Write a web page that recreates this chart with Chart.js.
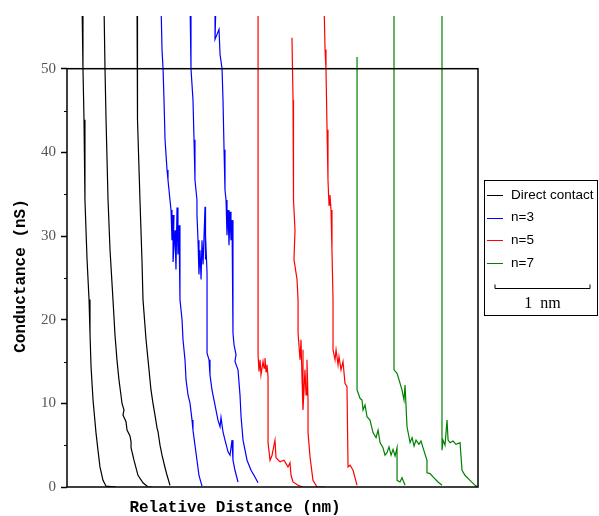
<!DOCTYPE html>
<html>
<head>
<meta charset="utf-8">
<script src="https://cdn.jsdelivr.net/npm/chart.js@4"></script>
<style>
  body { margin: 0; background: #fff; }
  #wrap { width: 599px; height: 516px; }
</style>
</head>
<body>
<div id="wrap"><canvas id="plot" width="599" height="516"></canvas></div>
<script>
// 數據 (x: nm, y: nS)，null 分隔每一條曲線
const seriesLabels = ['Direct contact', 'n=3', 'n=5', 'n=7'];
const seriesColors = ['#000000', '#0000ff', '#ff0000', '#008000'];
const yTickValues = [0, 10, 20, 30, 40, 50];

const contactX = [0.158, 0.168, 0.179, 0.189, 0.211, 0.232, 0.242, 0.253, 0.274, 0.305, 0.326, 0.347, 0.379, 0.411, 0.516, null,
  0.389, 0.400, 0.411, 0.432, 0.453, 0.484, 0.505, 0.526, 0.547, 0.568, 0.579, 0.600, 0.589, 0.621, 0.632, 0.663, 0.674, 0.674, 0.705, 0.747, 0.800, 0.853, 0.895, null,
  0.737, 0.737, 0.747, 0.768, 0.789, 0.800, 0.832, 0.853, 0.884, 0.905, 0.926, 0.947, 0.958, 0.979, 1.000, 1.032, 1.053, 1.084];
const contactY = [58, 50, 43.9, 34.3, 27.2, 22.4, 18.4, 14.4, 10.4, 6.5, 4.4, 2.4, 0.8, 0.1, 0, null,
  58, 50, 43.9, 34.3, 28.3, 22.4, 18.2, 15.2, 12.8, 11.0, 10.0, 9.2, 8.6, 7.8, 6.8, 6.1, 5.4, 4.7, 3.2, 1.4, 0.5, 0, 0, null,
  58, 50, 43.9, 34.3, 27.2, 22.4, 17.6, 15.2, 11.6, 10.0, 8.6, 7.1, 6.6, 5.0, 3.8, 2.3, 1.4, 0.2];

const n3X = [0.989, 1.000, 1.011, 1.021, 1.032, 1.053, 1.063, 1.084, 1.095, 1.105, 1.126, 1.116, 1.137, 1.147, 1.158, 1.168, 1.179, 1.189, 1.189, 1.211, 1.221, 1.242, 1.253, 1.274, 1.295, 1.316, 1.326, 1.347, 1.368, 1.389, 1.421, null,
  1.295, 1.305, 1.326, 1.337, 1.347, 1.368, 1.368, 1.379, 1.389, 1.400, 1.411, 1.421, 1.432, 1.453, 1.453, 1.463, 1.474, 1.474, 1.474, 1.474, 1.495, 1.505, 1.526, 1.558, 1.589, 1.611, 1.621, 1.642, 1.663, 1.695, 1.716, 1.737, 1.747, 1.768, 1.800, null,
  1.568, 1.558, 1.600, 1.611, 1.632, 1.642, 1.653, 1.663, 1.674, 1.684, 1.695, 1.705, 1.716, 1.726, 1.737, 1.747, 1.747, 1.747, 1.758, 1.779, 1.768, 1.800, 1.821, 1.832, 1.853, 1.895, 1.937, 1.968, 2.011];
const n3Y = [58, 52.3, 50, 46.3, 41.5, 37.9, 36.7, 34.3, 33.1, 29.5, 32.5, 26.9, 30.7, 26.0, 33.4, 27.8, 31.3, 25.6, 22.4, 20.0, 17.6, 15.2, 12.8, 11.0, 10.0, 8.0, 6.8, 5.0, 3.2, 1.4, 0.1, null,
  58, 50, 46.3, 41.5, 36.7, 34.3, 32.5, 29.5, 25.4, 28.3, 24.8, 29.5, 26.6, 33.5, 27.2, 30.1, 25.6, 22.4, 18.8, 16.0, 15.2, 13.4, 11.6, 9.8, 8.0, 7.2, 8.3, 6.6, 5.6, 4.2, 3.8, 5.6, 3.2, 2.0, 0.6, null,
  58, 53.5, 54.7, 51.7, 50, 46.3, 40.3, 35.5, 34.3, 30.1, 33.1, 28.9, 32.9, 29.5, 31.9, 26.9, 22.4, 18.4, 17.0, 15.8, 15.0, 14.0, 11.0, 8.4, 5.6, 3.2, 2.0, 1.4, 0.5];

const n5X = [2.011, 2.011, 2.021, 2.032, 2.042, 2.063, 2.074, 2.084, 2.095, 2.105, 2.116, 2.116, 2.137, 2.158, 2.189, 2.200, 2.242, 2.284, 2.326, 2.347, 2.358, 2.379, 2.432, 2.484, null,
  2.368, 2.379, 2.389, 2.379, 2.400, 2.389, 2.421, 2.432, 2.432, 2.453, 2.463, 2.474, 2.484, 2.484, 2.505, 2.516, 2.526, 2.537, 2.537, 2.558, 2.589, 2.632, 2.716, null,
  2.705, 2.716, 2.726, 2.737, 2.747, 2.758, 2.768, 2.779, 2.789, 2.800, 2.800, 2.821, 2.832, 2.853, 2.863, 2.884, 2.905, 2.926, 2.947, 2.958, 2.979, 3.011, 3.053];
const n5Y = [58, 15.8, 13.8, 15.2, 13.4, 15.0, 14.2, 15.4, 13.8, 14.6, 13.2, 5.3, 3.2, 3.8, 5.6, 3.5, 3.0, 3.2, 2.4, 2.9, 1.4, 0.6, 0.2, 0, null,
  53.7, 46.3, 40.3, 34.3, 30.7, 27.2, 24.8, 22.4, 18.4, 15.2, 17.6, 12.8, 16.4, 9.2, 14.0, 11.0, 15.2, 10.4, 6.5, 3.6, 0.8, 0, 0, null,
  58, 52.3, 50, 42.7, 36.7, 33.7, 34.9, 33.1, 28.3, 22.4, 16.4, 15.2, 16.4, 14.6, 15.6, 14.0, 15.0, 12.4, 12.0, 2.4, 2.6, 2.0, 0.2];

const n7X = [3.053, 3.053, 3.084, 3.105, 3.116, 3.137, 3.158, 3.189, 3.221, 3.253, 3.274, 3.295, 3.326, 3.347, 3.368, 3.389, 3.411, 3.432, 3.453, 3.474, 3.474, 3.505, 3.526, 3.558, null,
  3.442, 3.442, 3.474, 3.495, 3.526, 3.547, 3.558, 3.579, 3.611, 3.632, 3.653, 3.674, 3.705, 3.726, 3.747, 3.789, 3.789, 3.821, 3.853, 3.905, 3.947, null,
  3.947, 3.947, 3.958, 3.979, 4.000, 4.011, 4.032, 4.063, 4.095, 4.137, 4.158, 4.189, 4.242, 4.295, 4.326];
const n7Y = [51.4, 11.6, 10.6, 10.4, 9.2, 9.8, 8.4, 8.0, 6.5, 5.9, 6.8, 5.3, 4.7, 3.8, 4.1, 4.8, 3.8, 4.5, 3.7, 4.7, 0.8, 0.6, 1.1, 0.2, null,
  58, 14.0, 13.6, 12.8, 11.6, 10.4, 12.2, 7.2, 5.3, 5.9, 4.9, 5.6, 5.1, 5.5, 4.7, 3.2, 1.7, 1.6, 1.2, 0.6, 0.2, null,
  58, 4.4, 5.6, 5.0, 8.0, 5.6, 5.3, 5.5, 5.1, 5.3, 2.0, 1.4, 0.8, 0.2, 0];

const allX = [contactX, n3X, n5X, n7X];
const allY = [contactY, n3Y, n5Y, n7Y];

function toPoints(xs, ys) {
  return xs.map((x, i) => ({ x: x === null ? NaN : x, y: ys[i] }));
}

// 邊框、次刻度、軸標題、圖例、比例尺
const decorPlugin = {
  id: 'decor',
  afterDraw(chart) {
    const ctx = chart.ctx;
    const xs = chart.scales.x;
    const ys = chart.scales.y;
    const left = chart.chartArea.left;
    const right = chart.chartArea.right;
    const bottom = ys.getPixelForValue(0);
    const top = ys.getPixelForValue(50);
    ctx.save();

    // 框
    ctx.strokeStyle = '#000';
    ctx.lineWidth = 1.5;
    ctx.strokeRect(left, top, right - left, bottom - top);

    // 次刻度
    ctx.lineWidth = 1;
    for (let v = 5; v < 50; v += 10) {
      const py = Math.round(ys.getPixelForValue(v)) + 0.5;
      ctx.beginPath();
      ctx.moveTo(left - 3, py);
      ctx.lineTo(left, py);
      ctx.stroke();
    }

    // 軸標題
    ctx.fillStyle = '#000';
    ctx.font = 'bold 16px "Liberation Mono"';
    ctx.textAlign = 'center';
    ctx.textBaseline = 'middle';
    ctx.fillText('Relative Distance (nm)', 235, 508);
    ctx.save();
    ctx.translate(21, 276);
    ctx.rotate(-Math.PI / 2);
    ctx.fillText('Conductance (nS)', 0, 0);
    ctx.restore();

    // 圖例
    ctx.lineWidth = 1;
    ctx.strokeStyle = '#000';
    ctx.strokeRect(484.5, 180.5, 113, 135);
    ctx.font = '13.5px "Liberation Sans"';
    ctx.textAlign = 'left';
    chart.data.datasets.forEach((ds, i) => {
      const ly = 195 + i * 22.7;
      ctx.strokeStyle = ds.borderColor;
      ctx.beginPath();
      ctx.moveTo(487, Math.round(ly) + 0.5);
      ctx.lineTo(503, Math.round(ly) + 0.5);
      ctx.stroke();
      ctx.fillStyle = '#000';
      ctx.fillText(ds.label, 511, ly);
    });

    // 比例尺 1 nm
    const barLen = xs.getPixelForValue(1) - xs.getPixelForValue(0);
    const bx = 495, by = 288.5;
    ctx.strokeStyle = '#000';
    ctx.beginPath();
    ctx.moveTo(bx, by - 4);
    ctx.lineTo(bx, by);
    ctx.lineTo(bx + barLen, by);
    ctx.lineTo(bx + barLen, by - 4);
    ctx.stroke();
    ctx.font = '16px "Liberation Serif"';
    ctx.textAlign = 'center';
    ctx.fillText('1  nm', bx + barLen / 2, 304);

    ctx.restore();
  }
};

const datasets = seriesLabels.map((label, i) => ({
  label: label,
  data: toPoints(allX[i], allY[i]),
  borderColor: seriesColors[i],
  backgroundColor: seriesColors[i],
  borderWidth: 1.2,
  pointRadius: 0,
  tension: 0,
  spanGaps: false
}));

new Chart(document.getElementById('plot'), {
  type: 'line',
  data: { datasets: datasets },
  options: {
    responsive: false,
    animation: false,
    devicePixelRatio: 1,
    layout: { padding: { left: 0, top: 16, right: 121, bottom: 29 } },
    plugins: {
      legend: { display: false },
      tooltip: { enabled: false }
    },
    scales: {
      x: {
        type: 'linear',
        min: 0,
        max: 4.326,
        display: false
      },
      y: {
        type: 'linear',
        min: 0,
        max: 56.3,
        afterBuildTicks: (scale) => {
          scale.ticks = yTickValues.map(v => ({ value: v }));
        },
        afterFit: (scale) => { scale.width = 67; },
        border: { display: false },
        grid: {
          drawOnChartArea: false,
          drawTicks: true,
          tickLength: 6,
          tickColor: '#000',
          tickWidth: 1.5
        },
        ticks: {
          padding: 5,
          color: '#555',
          font: { family: '"Liberation Serif"', size: 15 }
        }
      }
    }
  },
  plugins: [decorPlugin]
});
</script>
</body>
</html>
